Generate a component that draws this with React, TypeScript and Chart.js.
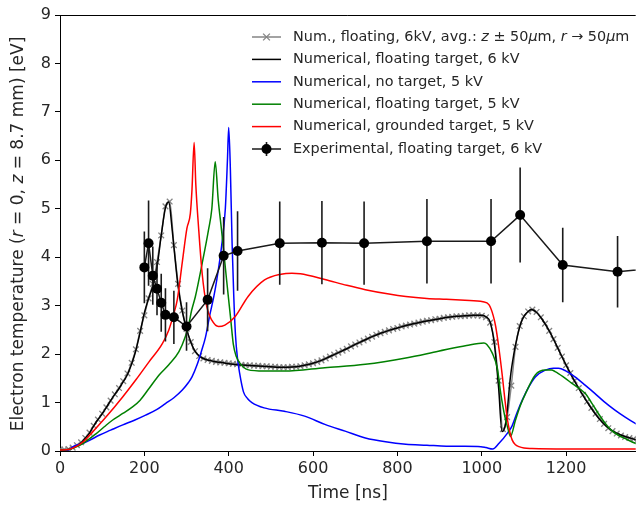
import { useEffect, useRef } from "react";
import { Chart, registerables } from "chart.js";

Chart.register(...registerables);

const FONT = '"DejaVu Sans", "Liberation Sans", sans-serif';

// ---------- DATA ----------
const xTickValues = [0, 200, 400, 600, 800, 1000, 1200];
const yTickValues = [0, 1, 2, 3, 4, 5, 6, 7, 8, 9];

// Num., floating, 6kV, averaged (gray, x markers)
const avgTimes = [
  0, 10, 20, 30, 40, 50, 60, 70, 80, 90,
  100, 110, 120, 130, 140, 150, 160, 170, 180, 190,
  200, 210, 220, 230, 240, 250, 260, 270, 280, 290,
  300, 310, 320, 330, 340, 350, 360, 370, 380, 390,
  400, 410, 420, 430, 440, 450, 460, 470, 480, 490,
  500, 510, 520, 530, 540, 550, 560, 570, 580, 590,
  600, 610, 620, 630, 640, 650, 660, 670, 680, 690,
  700, 710, 720, 730, 740, 750, 760, 770, 780, 790,
  800, 810, 820, 830, 840, 850, 860, 870, 880, 890,
  900, 910, 920, 930, 940, 950, 960, 970, 980, 990,
  1000, 1010, 1020, 1030, 1040, 1050, 1060, 1070, 1080, 1090,
  1100, 1110, 1120, 1130, 1140, 1150, 1160, 1170, 1180, 1190,
  1200, 1210, 1220, 1230, 1240, 1250, 1260, 1270, 1280, 1290,
  1300, 1310, 1320, 1330, 1340, 1350, 1360, 1370,
];
const avgValues = [
  0.03, 0.03, 0.04, 0.07, 0.12, 0.18, 0.27, 0.38, 0.52, 0.65,
  0.77, 0.9, 1.04, 1.17, 1.3, 1.44, 1.6, 1.82, 2.1, 2.48,
  2.8, 3.15, 3.45, 3.9, 4.45, 5.05, 5.15, 4.25, 3.45, 2.9,
  2.52, 2.25, 2.06, 1.96, 1.91, 1.88, 1.86, 1.84, 1.83, 1.82,
  1.81, 1.8, 1.79, 1.78, 1.77, 1.77, 1.76, 1.76, 1.75, 1.75,
  1.74, 1.74, 1.73, 1.73, 1.73, 1.74, 1.74, 1.75, 1.77, 1.79,
  1.81, 1.84, 1.87, 1.91, 1.95, 1.99, 2.03, 2.07, 2.11, 2.16,
  2.2, 2.24, 2.28, 2.32, 2.36, 2.4, 2.43, 2.46, 2.49, 2.52,
  2.54, 2.57, 2.59, 2.61, 2.63, 2.65, 2.67, 2.69, 2.7, 2.72,
  2.73, 2.75, 2.76, 2.77, 2.78, 2.78, 2.79, 2.8, 2.8, 2.8,
  2.79, 2.76, 2.65, 2.25, 1.45, 0.45, 0.7, 1.35, 2.15, 2.58,
  2.78, 2.88, 2.92, 2.87, 2.76, 2.63, 2.48, 2.31, 2.13, 1.95,
  1.77, 1.61, 1.45, 1.3, 1.16, 1.02, 0.89, 0.77, 0.66, 0.56,
  0.47, 0.41, 0.36, 0.32, 0.29, 0.27, 0.25, 0.23,
];

// Numerical, floating target, 6 kV (black)
const floating6Times = [
  0, 20, 30, 40, 50, 60, 70, 80, 90, 100, 110, 120, 130, 140, 150, 160, 170, 180, 190, 200,
  210, 220, 230, 240, 250, 258, 265, 270, 280, 290, 300, 310, 320, 330, 340, 350, 360, 370, 380,
  400, 420, 440, 460, 480, 500, 520, 540, 560, 580, 600, 620, 640, 660, 680, 700, 720, 740, 760,
  780, 800, 820, 840, 860, 880, 900, 920, 940, 960, 980, 1000,
  1010, 1020, 1030, 1040, 1048, 1055, 1060, 1068, 1076, 1084, 1092,
  1100, 1110, 1118, 1130, 1143, 1160, 1175, 1190, 1206, 1220, 1237, 1250, 1268, 1285, 1307, 1330, 1354, 1370,
];
const floating6Values = [
  0.02, 0.03, 0.06, 0.11, 0.17, 0.27, 0.37, 0.52, 0.65, 0.77, 0.9, 1.04, 1.17, 1.29, 1.43, 1.58, 1.8, 2.08, 2.45, 2.85,
  3.15, 3.4, 3.8, 4.45, 5.02, 5.14, 4.65, 4.22, 3.4, 2.88, 2.52, 2.25, 2.06, 1.96, 1.91, 1.88, 1.86, 1.84, 1.83,
  1.8, 1.78, 1.77, 1.76, 1.75, 1.74, 1.73, 1.73, 1.74, 1.77, 1.81, 1.87, 1.95, 2.03, 2.11, 2.2, 2.28, 2.36, 2.43,
  2.49, 2.54, 2.59, 2.63, 2.67, 2.7, 2.73, 2.76, 2.78, 2.79, 2.8, 2.8,
  2.77, 2.66, 2.2, 1.3, 0.4, 0.5, 0.8, 1.53, 2.0, 2.35, 2.62,
  2.78, 2.88, 2.92, 2.86, 2.72, 2.48, 2.22, 1.95, 1.67, 1.44, 1.19, 1.01, 0.78, 0.6, 0.43, 0.33, 0.26, 0.22,
];

// Numerical, no target, 5 kV (blue)
const noTargetTimes = [
  0, 20, 31, 55, 70, 94, 120, 149, 175, 203, 230, 250, 270, 290, 305, 313, 325, 335, 345, 355, 365, 372,
  383, 392, 397, 400, 404, 408, 412, 416, 421, 426, 435, 445, 455, 484, 532, 580, 628, 676, 724, 772, 820,
  870, 916, 960, 998, 1010, 1026, 1041, 1061, 1072, 1084, 1096, 1110, 1127, 1151, 1170, 1182, 1200, 1221,
  1245, 1268, 1290, 1315, 1340, 1364, 1375,
];
const noTargetValues = [
  0.0, 0.02, 0.09, 0.16, 0.22, 0.33, 0.43, 0.54, 0.63, 0.74, 0.86, 0.98, 1.1, 1.26, 1.42, 1.53, 1.78, 2.05, 2.35, 2.8, 3.2, 3.55,
  4.22, 5.0, 6.0, 6.68, 5.8, 4.3, 3.2, 2.4, 1.9, 1.6, 1.22, 1.08, 1.0, 0.89, 0.82, 0.72, 0.55, 0.41, 0.27, 0.19, 0.14,
  0.12, 0.1, 0.1, 0.09, 0.07, 0.04, 0.16, 0.37, 0.52, 0.8, 1.05, 1.3, 1.53, 1.67, 1.71, 1.71, 1.65, 1.53,
  1.36, 1.19, 1.02, 0.85, 0.7, 0.57, 0.52,
];

// Numerical, floating target, 5 kV (green)
const floating5Times = [
  0, 20, 35, 55, 86, 105, 125, 150, 172, 190, 211, 235, 258, 282, 297, 305, 312, 321, 337, 352, 360, 368,
  375, 383, 395, 405, 411, 418, 426, 445, 484, 532, 628, 724, 820, 897, 964, 1005, 1012, 1025, 1037, 1045,
  1055, 1061, 1068, 1080, 1092, 1104, 1127, 1151, 1165, 1174, 1195, 1213, 1245, 1260, 1276, 1292, 1307,
  1323, 1339, 1364, 1375,
];
const floating5Values = [
  0.02, 0.03, 0.07, 0.16, 0.36, 0.5, 0.64, 0.78, 0.91, 1.05, 1.29, 1.57, 1.78, 2.05, 2.36, 2.6, 2.9, 3.19, 3.87, 4.56, 5.0, 5.97,
  5.2, 4.56, 3.53, 2.7, 2.2, 1.95, 1.82, 1.68, 1.65, 1.65, 1.72, 1.79, 1.92, 2.06, 2.18, 2.23, 2.2, 2.02, 1.7, 1.19,
  0.7, 0.5, 0.3, 0.64, 0.95, 1.19, 1.57, 1.67, 1.67, 1.64, 1.52, 1.4, 1.19, 1.0, 0.78, 0.58, 0.43,
  0.33, 0.26, 0.16, 0.14,
];

// Numerical, grounded target, 5 kV (red)
const groundedTimes = [
  0, 20, 40, 55, 78, 110, 149, 180, 211, 243, 258, 270, 278, 290, 301, 309, 313, 318, 322, 329, 337, 348,
  360, 376, 391, 415, 446, 485, 524, 550, 570, 628, 680, 724, 780, 820, 870, 916, 960, 1003, 1017, 1027,
  1033, 1041, 1049, 1055, 1061, 1067, 1072, 1080, 1088, 1100, 1119, 1200, 1300, 1375,
];
const groundedValues = [
  0.02, 0.03, 0.1, 0.19, 0.4, 0.71, 1.12, 1.47, 1.84, 2.22, 2.5, 2.84, 3.12, 3.9, 4.6, 4.9, 5.4, 6.37, 5.5, 4.56, 3.67, 2.98,
  2.7, 2.57, 2.6, 2.77, 3.19, 3.53, 3.65, 3.67, 3.66, 3.54, 3.42, 3.33, 3.24, 3.19, 3.15, 3.13, 3.11, 3.08, 3.02, 2.8,
  2.57, 2.1, 1.53, 1.05, 0.64, 0.38, 0.23, 0.13, 0.09, 0.06, 0.05, 0.04, 0.04, 0.04,
];

// Experimental, floating target, 6 kV (black dots with error bars)
const expTimes = [200, 210, 220, 230, 240, 250, 270, 300, 350, 388, 421, 521, 621, 721, 870, 1022, 1091, 1192, 1322, 1420];
const expValues = [3.79, 4.29, 3.62, 3.35, 3.06, 2.81, 2.76, 2.57, 3.12, 4.03, 4.13, 4.29, 4.3, 4.29, 4.33, 4.33, 4.87, 3.84, 3.7, 3.78];
const expErrors = [0.74, 0.88, 0.6, 0.55, 0.6, 0.55, 0.55, 0.5, 0.65, 0.8, 0.82, 0.86, 0.86, 0.86, 0.87, 0.87, 0.98, 0.77, 0.74, 0.75];

const seriesLabels = [
  "Num., floating, 6kV, avg.: z ± 50μm, r → 50μm",
  "Numerical, floating target, 6 kV",
  "Numerical, no target, 5 kV",
  "Numerical, floating target, 5 kV",
  "Numerical, grounded target, 5 kV",
  "Experimental, floating target, 6 kV",
];

type Seg = { t: string; i?: boolean };
const avgLabelRich: Seg[] = [
  { t: "Num., floating, 6kV, avg.: " },
  { t: "z", i: true },
  { t: " ± 50" },
  { t: "μ", i: true },
  { t: "m, " },
  { t: "r", i: true },
  { t: " → 50" },
  { t: "μ", i: true },
  { t: "m" },
];
const yTitleRich: Seg[] = [
  { t: "Electron temperature (" },
  { t: "r", i: true },
  { t: " = 0, " },
  { t: "z", i: true },
  { t: " = 8.7 mm) [eV]" },
];

function pts(xs: number[], ys: number[]) {
  const n = Math.min(xs.length, ys.length);
  const out: { x: number; y: number }[] = [];
  for (let k = 0; k < n; k++) out.push({ x: xs[k], y: ys[k] });
  return out;
}

function richWidth(ctx: CanvasRenderingContext2D, segs: Seg[], size: number) {
  let w = 0;
  for (const s of segs) {
    ctx.font = `${s.i ? "italic " : ""}${size}px ${FONT}`;
    w += ctx.measureText(s.t).width;
  }
  return w;
}
function drawRich(ctx: CanvasRenderingContext2D, segs: Seg[], x: number, y: number, size: number) {
  let cx = x;
  for (const s of segs) {
    ctx.font = `${s.i ? "italic " : ""}${size}px ${FONT}`;
    ctx.fillText(s.t, cx, y);
    cx += ctx.measureText(s.t).width;
  }
}

const EXP_INDEX = 5;
const AVG_COLOR = "#858585";

const decorPlugin = {
  id: "decor",
  beforeDatasetDraw(chart: any, args: any) {
    if (args.index !== EXP_INDEX) return;
    const { ctx, chartArea, scales } = chart;
    ctx.save();
    ctx.beginPath();
    ctx.rect(chartArea.left, chartArea.top, chartArea.right - chartArea.left, chartArea.bottom - chartArea.top);
    ctx.clip();
    ctx.strokeStyle = "#1a1a1a";
    ctx.lineWidth = 1.6;
    for (let k = 0; k < expTimes.length; k++) {
      const px = scales.x.getPixelForValue(expTimes[k]);
      const y1 = scales.y.getPixelForValue(expValues[k] - expErrors[k]);
      const y2 = scales.y.getPixelForValue(expValues[k] + expErrors[k]);
      ctx.beginPath();
      ctx.moveTo(px, y1);
      ctx.lineTo(px, y2);
      ctx.stroke();
    }
    ctx.restore();
  },
  afterDraw(chart: any) {
    const { ctx, chartArea } = chart;
    ctx.save();
    // top spine
    ctx.strokeStyle = "#000";
    ctx.lineWidth = 1;
    ctx.beginPath();
    ctx.moveTo(chartArea.left, chartArea.top + 0.5);
    ctx.lineTo(chartArea.right, chartArea.top + 0.5);
    ctx.stroke();

    // y title
    ctx.fillStyle = "#262626";
    ctx.textBaseline = "middle";
    ctx.textAlign = "left";
    const ySize = 17;
    ctx.save();
    ctx.translate(18.5, (chartArea.top + chartArea.bottom) / 2 + 1);
    ctx.rotate(-Math.PI / 2);
    const w = richWidth(ctx, yTitleRich, ySize);
    drawRich(ctx, yTitleRich, -w / 2, 0, ySize);
    ctx.restore();

    // legend
    const ds = chart.data.datasets;
    const x0 = 252, x1 = 281, tx = 293, rowY0 = 37, step = 22.4, lsz = 14.4;
    for (let k = 0; k < ds.length; k++) {
      const d = ds[k];
      const y = rowY0 + k * step;
      ctx.strokeStyle = d.borderColor;
      ctx.lineWidth = d.borderWidth;
      ctx.beginPath();
      ctx.moveTo(x0, y);
      ctx.lineTo(x1, y);
      ctx.stroke();
      const cx = (x0 + x1) / 2;
      if (k === 0) {
        const r = 3.4;
        ctx.strokeStyle = d.pointBorderColor;
        ctx.lineWidth = 1.3;
        ctx.beginPath();
        ctx.moveTo(cx - r, y - r);
        ctx.lineTo(cx + r, y + r);
        ctx.moveTo(cx - r, y + r);
        ctx.lineTo(cx + r, y - r);
        ctx.stroke();
      }
      if (k === EXP_INDEX) {
        ctx.strokeStyle = "#1a1a1a";
        ctx.lineWidth = 1.6;
        ctx.beginPath();
        ctx.moveTo(cx, y - 7);
        ctx.lineTo(cx, y + 7);
        ctx.stroke();
        ctx.fillStyle = "#000";
        ctx.beginPath();
        ctx.arc(cx, y, 5, 0, Math.PI * 2);
        ctx.fill();
      }
      ctx.fillStyle = "#262626";
      ctx.textBaseline = "middle";
      if (k === 0) drawRich(ctx, avgLabelRich, tx, y, lsz);
      else drawRich(ctx, [{ t: d.label }], tx, y, lsz);
    }
    ctx.restore();
  },
};

export default function App() {
  const ref = useRef<HTMLCanvasElement | null>(null);
  useEffect(() => {
    const canvas = ref.current;
    if (!canvas) return;
    const numeric = { cubicInterpolationMode: "monotone" as const, pointRadius: 0, borderWidth: 1.5, fill: false };
    const datasets: any[] = [
      {
        ...numeric,
        label: seriesLabels[0],
        data: pts(avgTimes, avgValues),
        borderColor: AVG_COLOR,
        pointStyle: "crossRot",
        pointRadius: 4,
        pointBorderColor: AVG_COLOR,
        pointBackgroundColor: AVG_COLOR,
        pointBorderWidth: 1.3,
        order: 5,
      },
      { ...numeric, label: seriesLabels[1], data: pts(floating6Times, floating6Values), borderColor: "#000000", order: 4 },
      { ...numeric, label: seriesLabels[2], data: pts(noTargetTimes, noTargetValues), borderColor: "#0000ff", order: 3 },
      { ...numeric, label: seriesLabels[3], data: pts(floating5Times, floating5Values), borderColor: "#008000", order: 2 },
      { ...numeric, label: seriesLabels[4], data: pts(groundedTimes, groundedValues), borderColor: "#ff0000", order: 1 },
      {
        label: seriesLabels[5],
        data: pts(expTimes, expValues),
        borderColor: "#1a1a1a",
        borderWidth: 1.5,
        tension: 0,
        pointRadius: 5,
        pointBackgroundColor: "#000",
        pointBorderColor: "#000",
        pointBorderWidth: 0,
        order: 0,
      },
    ];
    const tickFont = { size: 16, family: FONT };
    const chart = new Chart(canvas, {
      type: "line",
      data: { datasets },
      options: {
        responsive: false,
        animation: false,
        devicePixelRatio: 1,
        layout: { padding: { top: 15, right: 0, left: 0, bottom: 0 } },
        plugins: { legend: { display: false }, tooltip: { enabled: false } },
        scales: {
          x: {
            type: "linear",
            min: 0,
            max: 1365,
            afterBuildTicks: (s: any) => {
              s.ticks = xTickValues.map((v) => ({ value: v }));
            },
            afterFit: (s: any) => {
              s.height = 57;
            },
            ticks: {
              font: tickFont,
              color: "#262626",
              padding: 3,
              maxRotation: 0,
              autoSkip: false,
              callback: (v: any) => String(v),
            },
            grid: { drawOnChartArea: false, drawTicks: true, tickLength: 5, tickColor: "#000", tickWidth: 1 },
            border: { display: true, color: "#000", width: 1 },
            title: { display: true, text: "Time [ns]", font: { size: 17, family: FONT }, color: "#262626", padding: { top: 0, bottom: 4 } },
          },
          y: {
            type: "linear",
            min: 0,
            max: 9,
            afterBuildTicks: (s: any) => {
              s.ticks = yTickValues.map((v) => ({ value: v }));
            },
            afterFit: (s: any) => {
              s.width = 60;
            },
            ticks: { font: tickFont, color: "#262626", padding: 4, callback: (v: any) => String(v) },
            grid: { drawOnChartArea: false, drawTicks: true, tickLength: 5, tickColor: "#000", tickWidth: 1 },
            border: { display: true, color: "#000", width: 1 },
            title: { display: false },
          },
        },
      } as any,
      plugins: [decorPlugin as any],
    });
    return () => chart.destroy();
  }, []);
  return (
    <div style={{ position: "fixed", left: 0, top: 0, width: 641, height: 508, background: "#fff" }}>
      <canvas ref={ref} width={641} height={508} style={{ display: "block", width: 641, height: 508 }} />
    </div>
  );
}
